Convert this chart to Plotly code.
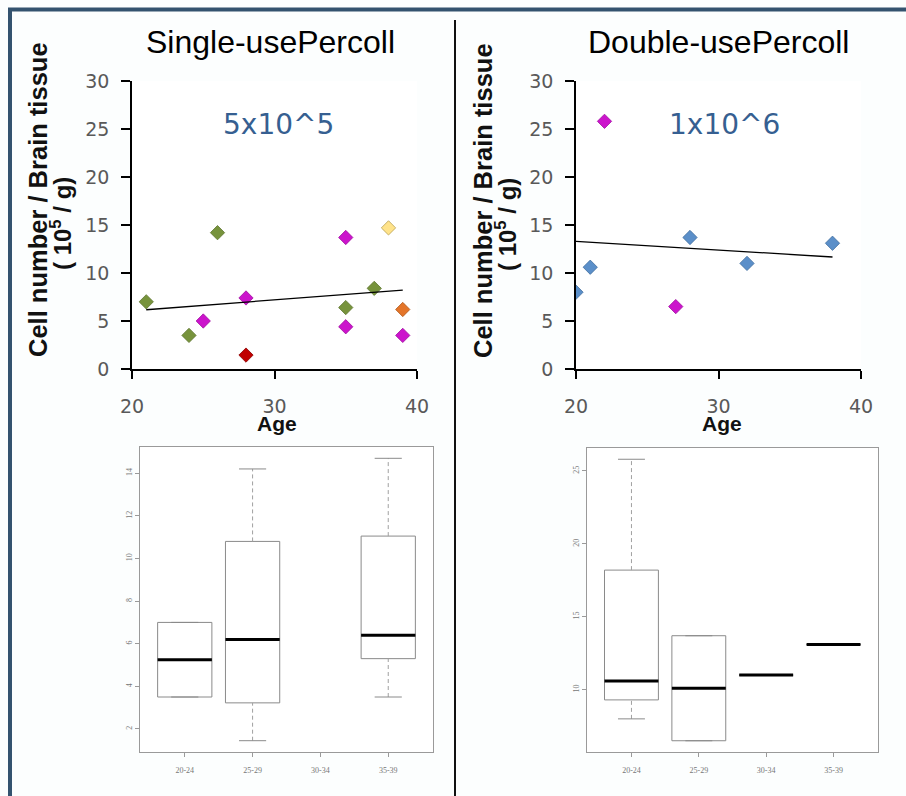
import math
import numpy as np
import plotly.graph_objects as go

# ---------------- data ----------------
# Single-use Percoll (5x10^5)
single_green_age = [21, 24, 26, 35, 37]
single_green_val = [7.0, 3.5, 14.2, 6.4, 8.4]
single_magenta_age = [25, 28, 35, 35, 39]
single_magenta_val = [5.0, 7.4, 13.7, 4.4, 3.5]
single_red_age = [28]
single_red_val = [1.45]
single_yellow_age = [38]
single_yellow_val = [14.7]
single_orange_age = [39]
single_orange_val = [6.2]

# Double-use Percoll (1x10^6)
double_blue_age = [20, 21, 28, 32, 38]
double_blue_val = [8.0, 10.6, 13.7, 11.0, 13.1]
double_magenta_age = [22, 27]
double_magenta_val = [25.8, 6.5]

age_group_labels = ["20-24", "25-29", "30-34", "35-39"]
age_group_lo = [20, 25, 30, 35]
age_group_hi = [24, 29, 34, 39]

panel_titles = ["Single-usePercoll", "Double-usePercoll"]
panel_notes = ["5x10^5", "1x10^6"]

# ---------------- helpers ----------------
W, H = 906, 796
def fx(px):
    return px / W
def fy(py):
    return 1 - py / H

def fivenum(v):
    x = sorted(v)
    n = len(x)
    n4 = math.floor((n + 3) / 2) / 2
    d = [1, n4, (n + 1) / 2, n + 1 - n4, n]
    return [0.5 * (x[math.floor(di) - 1] + x[math.ceil(di) - 1]) for di in d]

fig = go.Figure()

def scatter(ages, vals, color, edge, xa, ya):
    fig.add_trace(go.Scatter(
        x=ages, y=vals, mode="markers", xaxis=xa, yaxis=ya, showlegend=False,
        marker=dict(symbol="diamond", size=11, color=color,
                    line=dict(color=edge, width=0.8))))

GREEN, GREEN_E = "#77933C", "#5E7530"
MAG, MAG_E = "#CC14CC", "#A010A0"
RED, RED_E = "#C00000", "#8A0000"
YEL, YEL_E = "#FFE38A", "#B8A050"
ORA, ORA_E = "#E4752A", "#B05A1E"
BLUE, BLUE_E = "#5B8FC9", "#44709F"

scatter(single_green_age, single_green_val, GREEN, GREEN_E, "x", "y")
scatter(single_magenta_age, single_magenta_val, MAG, MAG_E, "x", "y")
scatter(single_red_age, single_red_val, RED, RED_E, "x", "y")
scatter(single_yellow_age, single_yellow_val, YEL, YEL_E, "x", "y")
scatter(single_orange_age, single_orange_val, ORA, ORA_E, "x", "y")

scatter(double_blue_age, double_blue_val, BLUE, BLUE_E, "x2", "y2")
scatter(double_magenta_age, double_magenta_val, MAG, MAG_E, "x2", "y2")

single_age = single_green_age + single_magenta_age + single_red_age + single_yellow_age + single_orange_age
single_val = single_green_val + single_magenta_val + single_red_val + single_yellow_val + single_orange_val
double_age = double_blue_age + double_magenta_age
double_val = double_blue_val + double_magenta_val

# linear trend lines
for ages, vals, xa, ya in [(single_age, single_val, "x", "y"), (double_age, double_val, "x2", "y2")]:
    k, b = np.polyfit(ages, vals, 1)
    xs = [min(ages), max(ages)]
    fig.add_trace(go.Scatter(x=xs, y=[k * t + b for t in xs], mode="lines",
                             xaxis=xa, yaxis=ya, showlegend=False,
                             line=dict(color="black", width=1.3)))

# box plots by age group (R-style: dashed whiskers, solid staples, thick median)
BOXGRAY = "#8A8A8A"
def add_boxes(ages, vals, xa, ya):
    pos, stats = [], []
    for i, (lo, hi) in enumerate(zip(age_group_lo, age_group_hi)):
        g = [v for a, v in zip(ages, vals) if lo <= a <= hi]
        if g:
            pos.append(i + 1)
            stats.append(fivenum(g))
    st = np.array(stats)
    wx, wy, cx, cy, mx, my = [], [], [], [], [], []
    for p, s in zip(pos, stats):
        wx += [p, p, None, p, p, None]
        wy += [s[0], s[1], None, s[3], s[4], None]
        cx += [p - 0.2, p + 0.2, None, p - 0.2, p + 0.2, None]
        cy += [s[0], s[0], None, s[4], s[4], None]
        mx += [p - 0.4, p + 0.4, None]
        my += [s[2], s[2], None]
    fig.add_trace(go.Scatter(x=wx, y=wy, mode="lines", xaxis=xa, yaxis=ya,
                             showlegend=False,
                             line=dict(color="#A0A0A0", width=1, dash="4px,3px")))
    fig.add_trace(go.Scatter(x=cx, y=cy, mode="lines", xaxis=xa, yaxis=ya,
                             showlegend=False, line=dict(color=BOXGRAY, width=1)))
    fig.add_trace(go.Box(
        x=pos, lowerfence=st[:, 1], q1=st[:, 1], median=st[:, 2], q3=st[:, 3],
        upperfence=st[:, 3], xaxis=xa, yaxis=ya, showlegend=False,
        width=0.8, whiskerwidth=0, fillcolor="white", boxpoints=False,
        line=dict(color=BOXGRAY, width=1)))
    fig.add_trace(go.Scatter(x=mx, y=my, mode="lines", xaxis=xa, yaxis=ya,
                             showlegend=False, line=dict(color="black", width=3)))
    lo_, hi_ = st[:, 0].min(), st[:, 4].max()
    pad = 0.04 * (hi_ - lo_)
    return [lo_ - pad, hi_ + pad]

yr3 = add_boxes(single_age, single_val, "x3", "y3")
yr4 = add_boxes(double_age, double_val, "x4", "y4")

# ---------------- axes ----------------
TICKFONT = dict(family="DejaVu Sans", size=19, color="#595959")
sc_x = dict(range=[20, 40], dtick=10, tick0=20, showline=True, linecolor="black",
            linewidth=1.5, ticks="outside", ticklen=8, tickcolor="black", tickwidth=1.5,
            showgrid=False, zeroline=False, tickfont=TICKFONT, ticklabelstandoff=11,
            automargin=False)
sc_y = dict(range=[0, 30], dtick=5, tick0=0, showline=True, linecolor="black",
            linewidth=1.5, ticks="outside", ticklen=9, tickcolor="black", tickwidth=1.5,
            showgrid=False, zeroline=False, tickfont=TICKFONT, ticklabelstandoff=8,
            automargin=False)

BOXFONT = dict(family="Liberation Serif", size=8, color="#777777")
bx_x = dict(range=[0.34, 4.66], tickvals=[1, 2, 3, 4], ticktext=age_group_labels,
            showline=True, mirror=True, linecolor="#9A9A9A", linewidth=1,
            ticks="outside", ticklen=4, tickcolor="#9A9A9A", showgrid=False,
            zeroline=False, tickfont=BOXFONT, ticklabelstandoff=6, automargin=False)
bx_y = dict(showline=True, mirror=True, linecolor="#9A9A9A", linewidth=1,
            ticks="outside", ticklen=4, tickcolor="#9A9A9A", showgrid=False,
            zeroline=False, tickfont=BOXFONT, tickangle=-90, automargin=False)

fig.update_layout(
    width=W, height=H, margin=dict(l=0, r=0, t=0, b=0, pad=0, autoexpand=False),
    paper_bgcolor="#FCFEFE", plot_bgcolor="white", showlegend=False,
    xaxis=dict(domain=[fx(132), fx(417)], anchor="y", **sc_x),
    yaxis=dict(domain=[fy(369), fy(81)], anchor="x", **sc_y),
    xaxis2=dict(domain=[fx(576), fx(861)], anchor="y2", **sc_x),
    yaxis2=dict(domain=[fy(369), fy(81)], anchor="x2", **sc_y),
    xaxis3=dict(domain=[fx(140), fx(433)], anchor="y3", **bx_x),
    yaxis3=dict(domain=[fy(752), fy(447)], anchor="x3", range=yr3,
                tickvals=[2, 4, 6, 8, 10, 12, 14], **bx_y),
    xaxis4=dict(domain=[fx(587), fx(878)], anchor="y4", **bx_x),
    yaxis4=dict(domain=[fy(752), fy(448)], anchor="x4", range=yr4,
                tickvals=[10, 15, 20, 25], **bx_y),
)

# ---------------- text ----------------
ann = []
def text(x, y, s, size, color="black", family="Liberation Sans", bold=False, angle=0):
    ann.append(dict(x=fx(x), y=fy(y), xref="paper", yref="paper", text=s,
                    showarrow=False, textangle=angle, xanchor="center", yanchor="middle",
                    font=dict(family=family, size=size, color=color,
                              weight="bold" if bold else "normal")))

text(270, 42, panel_titles[0], 32, "#000000")
text(718, 42, panel_titles[1], 32, "#000000")
text(278, 125, panel_notes[0], 28, "#365F91", family="DejaVu Sans")
text(724, 124, panel_notes[1], 28, "#365F91", family="DejaVu Sans")
for cx in (38, 483):
    text(cx, 200, "Cell number / Brain tissue", 25.5, "#111111", bold=True, angle=-90)
    text(cx + 23, 224, "( 10<sup>5</sup> / g)", 24, "#111111", bold=True, angle=-90)
text(277, 423, "Age", 21, "#111111", bold=True)
text(722, 423, "Age", 21, "#111111", bold=True)
fig.update_layout(annotations=ann)

# frame decoration
fig.update_layout(shapes=[
    dict(type="line", xref="paper", yref="paper", x0=fx(8), x1=1, y0=fy(9.5), y1=fy(9.5),
         line=dict(color="#34536F", width=4)),
    dict(type="line", xref="paper", yref="paper", x0=fx(10), x1=fx(10), y0=fy(8), y1=0,
         line=dict(color="#34536F", width=4)),
    dict(type="line", xref="paper", yref="paper", x0=fx(455), x1=fx(455), y0=fy(20), y1=0,
         line=dict(color="#111111", width=2)),
])

fig.write_html("out.html", config={"displayModeBar": False},
               post_script="document.body.style.margin='0';document.body.style.overflow='hidden';")
